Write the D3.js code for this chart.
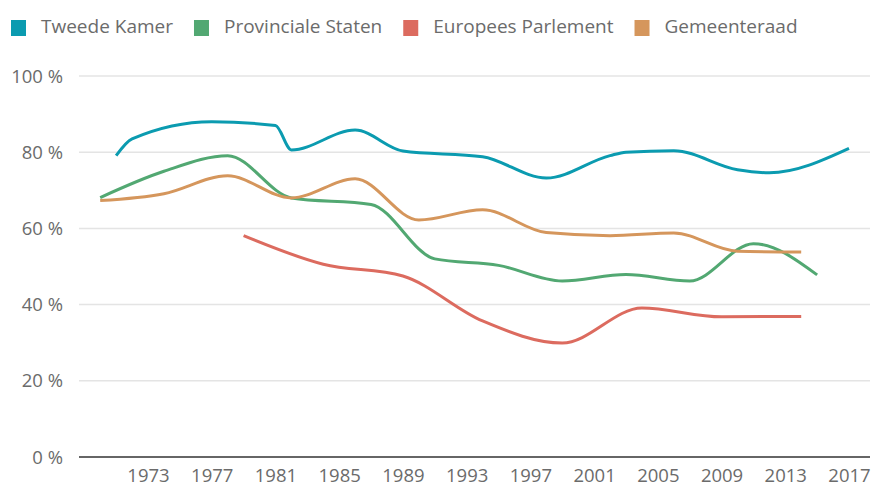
<!DOCTYPE html>
<html>
<head>
<meta charset="utf-8">
<script src="https://cdn.jsdelivr.net/npm/d3@7"></script>
<style>
  body { margin: 0; background: #fff; }
  svg text { font-family: "Open Sans", sans-serif; fill: #6b6b6b; }
</style>
</head>
<body>
<div id="container"></div>
<script>
// opkomst verkiezingen (%)
const seriesNames = ["Tweede Kamer", "Provinciale Staten", "Europees Parlement", "Gemeenteraad"];
const seriesColors = ["#0b9bb0", "#52a872", "#dc6b5f", "#d5965c"];

const tweedeKamer = [
  [1971, 79.1], [1972, 83.5], [1977, 88.0], [1981, 87.0], [1982, 80.6], [1986, 85.8],
  [1989, 80.3], [1994, 78.8], [1998, 73.2], [2002, 79.1], [2003, 80.0], [2006, 80.4],
  [2010, 75.4], [2012, 74.6], [2017, 81.0]
];
const provincialeStaten = [
  [1970, 68.1], [1974, 75.0], [1978, 79.1], [1982, 68.0], [1987, 66.3], [1991, 52.0],
  [1995, 50.3], [1999, 46.2], [2003, 47.9], [2007, 46.2], [2011, 56.0], [2015, 47.8]
];
const europeesParlement = [
  [1979, 58.1], [1984, 50.6], [1989, 47.5], [1994, 35.7], [1999, 29.9], [2004, 39.1],
  [2009, 36.8], [2014, 36.9]
];
const gemeenteraad = [
  [1970, 67.3], [1974, 69.1], [1978, 73.8], [1982, 68.0], [1986, 73.0], [1990, 62.2],
  [1994, 64.9], [1998, 58.9], [2002, 58.1], [2006, 58.8], [2010, 54.0], [2014, 53.8]
];
const allSeries = [tweedeKamer, provincialeStaten, europeesParlement, gemeenteraad];

const xTicks = [1973, 1977, 1981, 1985, 1989, 1993, 1997, 2001, 2005, 2009, 2013, 2017];
const yTicks = [0, 20, 40, 60, 80, 100];

const width = 885, height = 486;
const gridLeft = 79, gridRight = 870;

const svg = d3.select("#container").append("svg")
  .attr("width", width)
  .attr("height", height);

const x = d3.scaleLinear().domain([1970, 2017]).range([100.2, 849]);
const y = d3.scaleLinear().domain([0, 100]).range([457, 76]);

// grid lines
svg.append("g")
  .selectAll("line")
  .data(yTicks.filter(d => d > 0))
  .join("line")
  .attr("x1", gridLeft)
  .attr("x2", gridRight)
  .attr("y1", d => y(d))
  .attr("y2", d => y(d))
  .attr("stroke", "#e4e4e4")
  .attr("stroke-width", 1.5);

// y labels
svg.append("g")
  .selectAll("text")
  .data(yTicks)
  .join("text")
  .attr("x", 63)
  .attr("y", d => y(d))
  .attr("dy", "0.36em")
  .attr("text-anchor", "end")
  .style("font-size", "18.5px")
  .text(d => d + " %");

// x axis
const xAxis = svg.append("g")
  .attr("transform", `translate(0,${y(0)})`)
  .call(d3.axisBottom(x).tickValues(xTicks).tickFormat(d3.format("d")).tickSize(0).tickPadding(12))
  .call(g => g.select(".domain").remove());
xAxis.selectAll("text")
  .style("font-size", "18.5px")
  .style("font-family", "Open Sans, sans-serif")
  .attr("fill", "#6b6b6b");

svg.append("line")
  .attr("x1", gridLeft)
  .attr("x2", gridRight)
  .attr("y1", y(0))
  .attr("y2", y(0))
  .attr("stroke", "#333")
  .attr("stroke-width", 1.5);

// lines
const line = d3.line()
  .x(d => x(d[0]))
  .y(d => y(d[1]))
  .curve(d3.curveMonotoneX);

svg.append("g")
  .selectAll("path")
  .data(allSeries)
  .join("path")
  .attr("fill", "none")
  .attr("stroke", (d, i) => seriesColors[i])
  .attr("stroke-width", 3)
  .attr("stroke-linejoin", "round")
  .attr("d", line);

// legend
const legend = svg.append("g");
let lx = 11;
seriesNames.forEach((name, i) => {
  legend.append("rect")
    .attr("x", lx)
    .attr("y", 20)
    .attr("width", 15)
    .attr("height", 16)
    .attr("fill", seriesColors[i]);
  const t = legend.append("text")
    .attr("x", lx + 30)
    .attr("y", 33)
    .style("font-size", "19px")
    .text(name);
  lx += 30 + t.node().getComputedTextLength() + 21;
});
</script>
</body>
</html>
